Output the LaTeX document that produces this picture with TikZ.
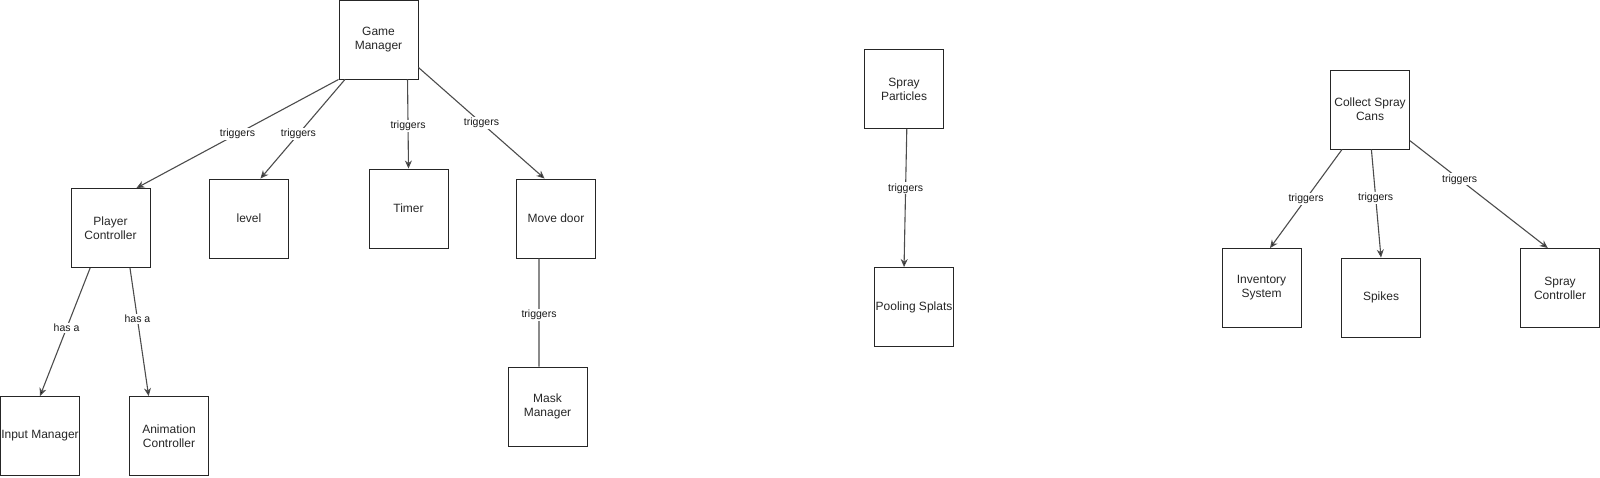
\documentclass[tikz,border=0pt]{standalone}
\usepackage{fontspec}
\setmainfont{Liberation Sans}
\usetikzlibrary{
  arrows.meta,
  calc
}

\begin{document}
\begin{tikzpicture}[
    x=1pt,
    y=-1pt,
    >={Stealth[length=8pt,width=7pt,inset=2.5pt,fill=black]},
    caixa/.style={draw=black!85, line width=0.9pt,
      minimum width=79pt, minimum height=79pt,
      inner sep=0.5pt, align=center, text=black!85,
      font=\fontsize{12}{14}\selectfont},
    liga/.style={draw=black!70, line width=1.1pt},
    rotulo/.style={fill=white, inner sep=1pt, text=black!90,
      font=\fontsize{10.5}{12}\selectfont}
    ]

    \useasboundingbox (0,0) rectangle (1600,477);

    % gerenciador do jogo
    \node[caixa] (gm) at (378.5,39.5) {Game\\Manager};
    \node[caixa] (pc) at (110.5,228) {Player\\Controller};
    \node[caixa] (lvl) at (249,218.5) {level};
    \node[caixa] (tmr) at (408.5,208.5) {Timer};
    \node[caixa] (door) at (556,218.5) {Move door};
    \node[caixa] (inp) at (40,436) {Input Manager};
    \node[caixa] (anim) at (169,436) {Animation\\Controller};
    \node[caixa] (mask) at (547.5,406.5) {Mask\\Manager};

    % particulas
    \node[caixa] (spray) at (904,89) {Spray\\Particles};
    \node[caixa] (pool) at (914,307) {Pooling Splats};

    % latas
    \node[caixa] (cans) at (1370,109.5) {Collect Spray\\Cans};
    \node[caixa] (inv) at (1261.5,288) {Inventory\\System};
    \node[caixa] (spk) at (1381,297.5) {Spikes};
    \node[caixa] (sprc) at (1560,288) {Spray\\Controller};

    % ligacoes
    \draw[liga,->] (gm.south west) -- (pc.57)
    node[rotulo,pos=0.5] (t1) {triggers};

    \draw[liga,->] (gm.230) -- (lvl.74)
    node[rotulo,pos=0.55] (t2) {triggers};

    \draw[liga,->] (gm.306) -- (tmr.north)
    node[rotulo,pos=0.52] (t3) {triggers};

    \draw[liga,->] (gm.-35) -- (door.106)
    node[rotulo,pos=0.5] (t4) {triggers};

    \draw[liga,->] (pc.243) -- (inp.north)
    node[rotulo,pos=0.47] (h1) {has a};

    \draw[liga,->] (pc.296) -- (anim.117)
    node[rotulo,pos=0.4] (h2) {has a};

    \draw[liga] (door.247) -- (mask.102)
    node[rotulo,pos=0.52] (t5) {triggers};

    \draw[liga,->] (spray.-86) -- (pool.104)
    node[rotulo,pos=0.43] (t6) {triggers};

    \draw[liga,->] (cans.235) -- (inv.78)
    node[rotulo,pos=0.5] (t7) {triggers};

    \draw[liga,->] (cans.-88) -- (spk.north)
    node[rotulo,pos=0.45] (t8) {triggers};

    \draw[liga,->] (cans.-38) -- (sprc.107)
    node[rotulo,pos=0.36] (t9) {triggers};

\end{tikzpicture}
\end{document}
